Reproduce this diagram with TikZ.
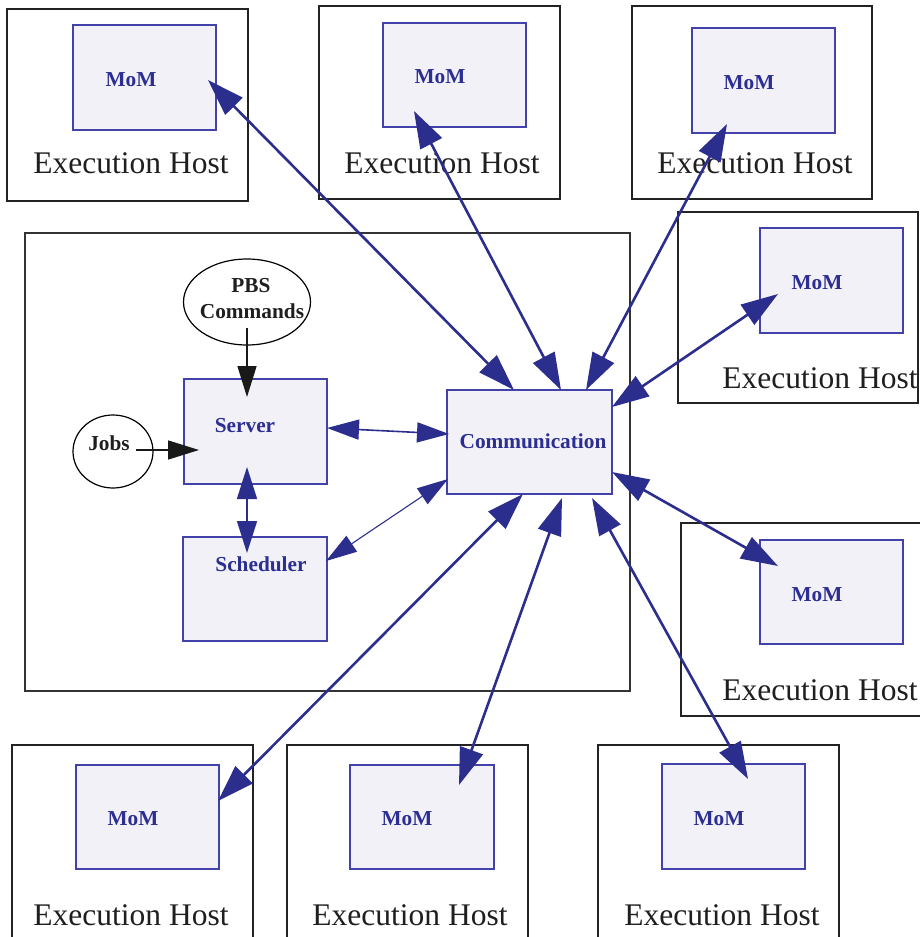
\documentclass[tikz,border=0pt]{standalone}
\usepackage{fontspec}
\setmainfont{Liberation Serif}
\usetikzlibrary{arrows.meta,shapes.geometric}
\definecolor{arrblue}{RGB}{44,46,142}
\definecolor{bordblue}{RGB}{66,66,170}
\definecolor{fillblue}{RGB}{242,241,248}
\definecolor{txtblue}{RGB}{44,46,146}
\definecolor{hostline}{RGB}{35,35,35}
\tikzset{
  hostbox/.style={draw=hostline, line width=1.3pt, fill=white, inner sep=0pt, outer sep=0pt},
  bluebox/.style={draw=bordblue, line width=1.3pt, fill=fillblue, inner sep=0pt, outer sep=0pt},
  ovalnode/.style={ellipse, draw=black, line width=1.2pt, fill=white, inner sep=0pt, outer sep=0pt},
  exectxt/.style={anchor=base, inner sep=0pt, font=\fontsize{31.5}{34}\selectfont, text=black!88},
  bluetxt/.style={anchor=base, inner sep=0pt, font=\bfseries\fontsize{21.3}{23}\selectfont, text=txtblue},
  blacktxt/.style={anchor=base, inner sep=0pt, font=\bfseries\fontsize{21.3}{23}\selectfont, text=black!88},
  thickarr/.style={draw=arrblue, line width=2.6pt, {Triangle[length=37pt,width=24pt]}-{Triangle[length=37pt,width=24pt]}},
  midarr/.style={draw=arrblue, line width=1.6pt, {Triangle[length=32pt,width=20pt]}-{Triangle[length=32pt,width=20pt]}},
  thinarr/.style={draw=arrblue, line width=1.1pt, {Triangle[length=31pt,width=19pt]}-{Triangle[length=31pt,width=19pt]}},
  blackarr/.style={draw=black!90, line width=1.5pt, -{Triangle[length=31pt,width=19pt]}},
}
\begin{document}
\begin{tikzpicture}[x=1pt,y=-1pt]
\useasboundingbox (0,0) rectangle (920,937);
\clip (0,0) rectangle (920,937);

% main frame
\node[draw=black!80, line width=1.3pt, inner sep=0pt, minimum width=605pt, minimum height=458pt] (frame) at (327.5,462) {};

% execution hosts (outer boxes)
\node[hostbox, minimum width=241pt, minimum height=192pt] (h1) at (127.5,105) {};
\node[hostbox, minimum width=241pt, minimum height=193pt] (h2) at (439.5,102.5) {};
\node[hostbox, minimum width=240pt, minimum height=193pt] (h3) at (752,102.5) {};
\node[hostbox, minimum width=240pt, minimum height=191pt] (h4) at (798,307.5) {};
\node[hostbox, minimum width=244pt, minimum height=193pt] (h5) at (803,619.5) {};
\node[hostbox, minimum width=241pt, minimum height=200pt] (h6) at (132.5,845) {};
\node[hostbox, minimum width=241pt, minimum height=200pt] (h7) at (407.5,845) {};
\node[hostbox, minimum width=241pt, minimum height=200pt] (h8) at (718.5,845) {};

% MoM boxes
\node[bluebox, minimum width=143pt, minimum height=105pt] (m1) at (144.5,77.5) {};
\node[bluebox, minimum width=143pt, minimum height=104pt] (m2) at (454.5,75) {};
\node[bluebox, minimum width=143pt, minimum height=105pt] (m3) at (763.5,80.5) {};
\node[bluebox, minimum width=143pt, minimum height=105pt] (m4) at (831.5,280.5) {};
\node[bluebox, minimum width=143pt, minimum height=104pt] (m5) at (831.5,592) {};
\node[bluebox, minimum width=143pt, minimum height=104pt] (m6) at (147.5,817) {};
\node[bluebox, minimum width=144pt, minimum height=104pt] (m7) at (422,817) {};
\node[bluebox, minimum width=143pt, minimum height=105pt] (m8) at (733.5,816.5) {};

% labels in hosts
\node[bluetxt] (tm1) at (131,86) {MoM};
\node[bluetxt] (tm2) at (440,83) {MoM};
\node[bluetxt] (tm3) at (749,89) {MoM};
\node[bluetxt] (tm4) at (817,289) {MoM};
\node[bluetxt] (tm5) at (817,601) {MoM};
\node[bluetxt] (tm6) at (133,825) {MoM};
\node[bluetxt] (tm7) at (407,825) {MoM};
\node[bluetxt] (tm8) at (719,825) {MoM};

\node[exectxt] (te1) at (131,173) {Execution Host};
\node[exectxt] (te2) at (442,173) {Execution Host};
\node[exectxt] (te3) at (755,173) {Execution Host};
\node[exectxt] (te4) at (820,388) {Execution Host};
\node[exectxt] (te5) at (820,700) {Execution Host};
\node[exectxt] (te6) at (131,925) {Execution Host};
\node[exectxt] (te7) at (410,925) {Execution Host};
\node[exectxt] (te8) at (722,925) {Execution Host};

% server side
\node[bluebox, minimum width=143pt, minimum height=105pt] (server) at (255.5,431.5) {};
\node[bluebox, minimum width=144pt, minimum height=104pt] (sched) at (255,589) {};
\node[bluebox, minimum width=165pt, minimum height=104pt] (comm) at (529.5,442) {};
\node[ovalnode, minimum width=127pt, minimum height=86pt] (pbs) at (247,302) {};
\node[ovalnode, minimum width=80pt, minimum height=73pt] (jobs) at (113,451.5) {};

\node[bluetxt] (tserver) at (245,432) {Server};
\node[bluetxt] (tsched) at (261,571) {Scheduler};
\node[bluetxt] (tcomm) at (533,448) {Communication};
\node[blacktxt] (tjobs) at (109,450) {Jobs};
\node[blacktxt] (tpbs1) at (251,292) {PBS};
\node[blacktxt] (tpbs2) at (252,318) {Commands};

% connector end points
\coordinate (a1) at (208,80);   \coordinate (c1) at (514,390);
\coordinate (a2) at (414,111);  \coordinate (c2) at (561,390);
\coordinate (a3) at (727,124);  \coordinate (c3) at (586,390);
\coordinate (a4) at (778,294);  \coordinate (c4) at (612,407);
\coordinate (a5) at (778,566);  \coordinate (c5) at (612,472);
\coordinate (a6) at (218,801);  \coordinate (c6) at (523,494);
\coordinate (a7) at (459,785);  \coordinate (c7) at (562,498);
\coordinate (a8) at (748,779);  \coordinate (c8) at (592,498);
\coordinate (sv1) at (327,428); \coordinate (cm1) at (449,434);
\coordinate (sc1) at (326,561); \coordinate (cm2) at (448,479);
\coordinate (sv2) at (247,467); \coordinate (sc2) at (247,553);
\coordinate (pb1) at (247,328); \coordinate (sv3) at (247,397);
\coordinate (jb1) at (136,450); \coordinate (sv4) at (199,450);

% connectors
\draw[thickarr] (a1) -- (c1);
\draw[thickarr] (a2) -- (c2);
\draw[thickarr] (a3) -- (c3);
\draw[thickarr] (a4) -- (c4);
\draw[thickarr] (a5) -- (c5);
\draw[thickarr] (a6) -- (c6);
\draw[thickarr] (a7) -- (c7);
\draw[thickarr] (a8) -- (c8);
\draw[midarr] (sv1) -- (cm1);
\draw[thinarr] (sc1) -- (cm2);
\draw[midarr] (sv2) -- (sc2);
\draw[blackarr] (pb1) -- (sv3);
\draw[blackarr] (jb1) -- (sv4);
\end{tikzpicture}
\end{document}
